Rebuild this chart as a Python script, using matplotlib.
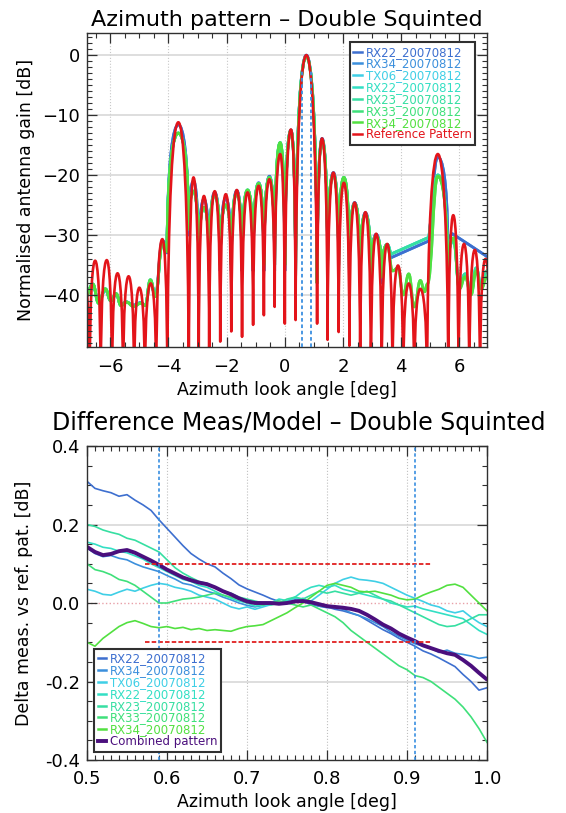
import numpy as np
import matplotlib
matplotlib.use("Agg")
import matplotlib.pyplot as plt
from matplotlib.path import Path
from matplotlib.patches import PathPatch
from matplotlib.lines import Line2D
from matplotlib.ticker import MultipleLocator, FormatStrFormatter

plt.rcParams['font.family'] = ['DejaVu Sans']

# ---------------- series names / colours ----------------
labels_meas = ["RX22_20070812", "RX34_20070812", "TX06_20070812", "RX22_20070812",
               "RX23_20070812", "RX33_20070812", "RX34_20070812"]
colors_meas = ["#3d6fcf", "#3b8fdc", "#3fcfe6", "#33dfc4", "#36dfa2", "#3fe07a", "#52e040"]
color_ref = "#e3141a"
color_comb = "#4b0f7d"

# ---------------- top panel: azimuth pattern (lobe extrema) ----------------
# shape codes: 's' smooth extremum, 'n' sharp null, 'l' straight segment
ref_angle = [-6.88, -6.71, -6.52, -6.33, -6.12, -5.94, -5.75, -5.56, -5.37, -5.18,
             -5.00, -4.81, -4.61, -4.42, -4.21, -4.04, -3.66, -3.30, -3.14, -2.96,
             -2.78, -2.60, -2.41, -2.22, -2.03, -1.84, -1.65, -1.47, -1.28, -1.09,
             -0.90, -0.72, -0.53, -0.35, -0.16, 0.00, 0.21, 0.37, 0.74, 1.11,
             1.28, 1.47, 1.67, 1.85, 2.03, 2.22, 2.40, 2.59, 2.77, 2.96,
             3.14, 3.33, 3.52, 3.70, 3.89, 4.07, 4.26, 4.45, 4.66, 4.89,
             5.26, 5.62, 5.79, 5.97, 6.16, 6.34, 6.53, 6.71, 6.90, 7.08]
ref_gain = [-38.0, -55, -34.3, -55, -34.2, -55, -36.4, -55, -36.9, -55,
            -38.8, -55, -38.1, -55, -30.7, -55, -11.2, -55, -20.4, -52,
            -23.5, -49, -22.7, -47.8, -23.2, -46.1, -22.5, -47.0, -22.9, -45.0,
            -21.8, -43.4, -20.7, -42.0, -16.5, -44.8, -12.4, -44.2, 0.0, -44.8,
            -13.9, -47.5, -19.6, -46.2, -21.3, -48.5, -24.6, -52, -26.2, -55,
            -29.8, -55, -31.5, -55, -35.1, -55, -38.1, -55, -39.0, -55,
            -16.5, -55, -26.7, -55, -31.5, -55, -32.5, -55, -34.0, -55]
ref_shape = "sn" * 35

# measured patterns, blue receivers
blue_angle = [-6.85, -6.60, -6.40, -6.17, -5.98, -5.80, -5.63, -5.45, -5.20, -4.95,
              -4.80, -4.62, -4.45, -4.21, -4.05, -3.66, -3.30, -3.14, -2.96, -2.78,
              -2.60, -2.41, -2.22, -2.03, -1.84, -1.65, -1.47, -1.28, -1.09, -0.90,
              -0.72, -0.53, -0.35, -0.16, 0.00, 0.21, 0.37, 0.74, 1.11, 1.28,
              1.47, 1.67, 1.85, 2.03, 2.22, 2.40, 2.59, 2.77, 2.96, 3.14,
              3.33, 3.52, 3.65, 4.95, 5.26, 5.60, 5.76, 6.95]
blue_gain = [-40.0, -38.4, -41.2, -39.2, -41.0, -40.0, -41.6, -41.2, -41.7, -41.3,
             -41.7, -37.8, -40.0, -31.0, -33.0, -11.6, -30.0, -21.0, -36.0, -24.0,
             -36.0, -22.9, -36.0, -23.8, -36.0, -22.6, -36.0, -22.6, -36.0, -21.3,
             -36.0, -20.2, -36.0, -15.8, -36.0, -12.5, -38.0, 0.0, -38.0, -13.9,
             -36.0, -19.6, -36.0, -21.0, -37.0, -24.6, -38.0, -26.3, -38.0, -29.9,
             -38.0, -31.6, -33.8, -31.0, -17.0, -31.0, -29.8, -33.6]
blue_shape = "s" * 14 + "ns" + "ns" * 18 + "llsnll"

# measured patterns, green receivers: common part up to 3.5 deg
green_angle = [-6.85, -6.60, -6.40, -6.17, -5.98, -5.80, -5.63, -5.45, -5.20, -4.95,
               -4.80, -4.62, -4.45, -4.21, -4.05, -3.66, -3.30, -3.14, -2.96, -2.78,
               -2.60, -2.41, -2.22, -2.03, -1.84, -1.65, -1.47, -1.28, -1.09, -0.90,
               -0.72, -0.53, -0.35, -0.16, 0.00, 0.21, 0.37, 0.74, 1.11, 1.28,
               1.47, 1.67, 1.85, 2.03, 2.22, 2.40, 2.59, 2.77, 2.96, 3.14,
               3.33, 3.52]
green_gain = [-40.3, -38.2, -41.4, -39.0, -41.0, -39.8, -41.8, -41.2, -41.9, -41.4,
              -41.8, -37.5, -40.3, -31.5, -32.8, -13.0, -29.0, -22.7, -35.0, -25.4,
              -35.0, -23.3, -35.0, -25.0, -35.0, -23.0, -35.0, -22.5, -35.0, -21.4,
              -35.0, -20.4, -35.0, -14.6, -35.0, -12.6, -38.0, -0.2, -38.0, -14.2,
              -35.0, -19.9, -35.0, -20.4, -36.0, -24.8, -36.0, -26.6, -37.0, -30.2,
              -37.0, -31.6]
green_shape = "s" * 14 + "ns" + "ns" * 18

# green receivers with the straight (gap) section beyond 3.5 deg
greenA_tail_angle = [3.65, 4.95, 5.26, 5.60, 5.80, 6.00, 6.20, 6.40, 6.58, 6.75, 6.95]
greenA_tail_gain = [-33.2, -30.4, -20.0, -36.0, -31.0, -38.5, -36.5, -39.5, -35.5, -38.5, -36.0]
greenA_tail_shape = "llsnsssssss"

# green receivers with full far-sidelobe coverage
greenB_tail_angle = [3.70, 3.89, 4.07, 4.26, 4.45, 4.66, 4.80, 4.90, 5.26, 5.60,
                     5.80, 6.00, 6.20, 6.40, 6.58, 6.75, 6.95]
greenB_tail_gain = [-36.0, -35.5, -40.0, -36.5, -42.0, -37.6, -39.5, -38.2, -20.2, -37.0,
                    -30.5, -39.0, -37.0, -40.0, -36.0, -39.0, -37.0]
greenB_tail_shape = "s" * 9 + "n" + "s" * 7

# ---------------- bottom panel: difference curves ----------------
look_angle = np.linspace(0.50, 1.00, 51)

diff_rx22 = [0.310, 0.292, 0.286, 0.281, 0.272, 0.276, 0.262, 0.250, 0.236, 0.212,
             0.190, 0.168, 0.146, 0.126, 0.112, 0.100, 0.092, 0.076, 0.062, 0.046,
             0.036, 0.028, 0.020, 0.011, 0.004, 0.000, 0.008, 0.004, -0.004, -0.008,
             -0.010, -0.016, -0.020, -0.026, -0.032, -0.044, -0.056, -0.068, -0.078, -0.090,
             -0.100, -0.110, -0.122, -0.130, -0.140, -0.151, -0.162, -0.182, -0.200, -0.222,
             -0.216]
diff_rx34 = [0.140, 0.126, 0.118, 0.121, 0.114, 0.110, 0.100, 0.092, 0.086, 0.080,
             0.070, 0.061, 0.050, 0.046, 0.038, 0.030, 0.024, 0.015, 0.008, 0.000,
             -0.006, -0.010, -0.006, 0.000, 0.004, 0.000, 0.006, 0.012, 0.000, -0.008,
             -0.012, -0.010, -0.016, -0.025, -0.032, -0.040, -0.050, -0.060, -0.074, -0.085,
             -0.095, -0.104, -0.110, -0.116, -0.126, -0.120, -0.128, -0.131, -0.135, -0.141,
             -0.138]
diff_tx06 = [0.035, 0.030, 0.022, 0.020, 0.028, 0.035, 0.030, 0.038, 0.045, 0.050,
             0.047, 0.040, 0.036, 0.030, 0.020, 0.015, 0.010, 0.000, -0.010, -0.015,
             -0.010, -0.016, -0.010, -0.004, 0.000, 0.005, 0.012, 0.010, 0.005, 0.020,
             0.035, 0.050, 0.060, 0.066, 0.060, 0.058, 0.055, 0.050, 0.040, 0.030,
             0.020, 0.012, 0.004, -0.005, -0.010, -0.020, -0.025, -0.020, -0.036, -0.050,
             -0.060]
diff_rx22b = [0.155, 0.150, 0.142, 0.139, 0.132, 0.128, 0.120, 0.112, 0.100, 0.090,
              0.080, 0.070, 0.060, 0.055, 0.045, 0.040, 0.030, 0.020, 0.012, 0.005,
              0.000, -0.008, -0.005, 0.000, 0.010, 0.006, 0.015, 0.030, 0.040, 0.045,
              0.040, 0.045, 0.035, 0.030, 0.025, 0.020, 0.015, 0.010, 0.000, -0.005,
              -0.010, -0.008, -0.015, -0.020, -0.025, -0.030, -0.035, -0.040, -0.055, -0.070,
              -0.080]
diff_rx23 = [0.200, 0.195, 0.186, 0.180, 0.175, 0.165, 0.160, 0.150, 0.140, 0.130,
             0.110, 0.090, 0.076, 0.065, 0.055, 0.050, 0.040, 0.030, 0.025, 0.015,
             0.010, 0.005, 0.000, -0.005, 0.000, 0.010, 0.015, 0.010, 0.020, 0.030,
             0.025, 0.030, 0.025, 0.020, 0.025, 0.030, 0.020, 0.010, 0.005, -0.005,
             -0.015, -0.025, -0.035, -0.045, -0.055, -0.060, -0.058, -0.050, -0.040, -0.030,
             -0.030]
diff_rx33 = [0.100, 0.085, 0.080, 0.072, 0.060, 0.055, 0.045, 0.030, 0.015, 0.000,
             0.000, 0.005, 0.010, 0.012, 0.015, 0.020, 0.025, 0.020, 0.015, 0.010,
             0.005, 0.000, -0.005, 0.000, 0.005, 0.000, -0.005, -0.010, -0.005, -0.015,
             -0.025, -0.035, -0.050, -0.070, -0.085, -0.100, -0.115, -0.130, -0.145, -0.160,
             -0.170, -0.185, -0.190, -0.200, -0.215, -0.230, -0.245, -0.265, -0.290, -0.320,
             -0.355]
diff_rx34b = [-0.100, -0.110, -0.090, -0.075, -0.060, -0.050, -0.045, -0.052, -0.060, -0.063,
              -0.060, -0.065, -0.062, -0.068, -0.065, -0.070, -0.068, -0.070, -0.072, -0.065,
              -0.060, -0.058, -0.055, -0.045, -0.035, -0.025, -0.012, 0.000, 0.015, 0.030,
              0.045, 0.050, 0.045, 0.040, 0.030, 0.028, 0.030, 0.025, 0.020, 0.012,
              0.008, 0.010, 0.020, 0.028, 0.035, 0.045, 0.048, 0.040, 0.020, 0.000,
              -0.020]
diff_combined = [0.143, 0.130, 0.122, 0.125, 0.132, 0.135, 0.128, 0.118, 0.108, 0.097,
                 0.085, 0.075, 0.065, 0.058, 0.052, 0.048, 0.040, 0.030, 0.022, 0.012,
                 0.004, 0.000, 0.000, 0.000, -0.002, 0.000, 0.004, 0.005, 0.002, -0.003,
                 -0.008, -0.010, -0.012, -0.015, -0.020, -0.030, -0.042, -0.055, -0.065, -0.078,
                 -0.088, -0.097, -0.108, -0.115, -0.122, -0.128, -0.132, -0.145, -0.160, -0.178,
                 -0.195]

window_edges = [0.59, 0.91]
tolerance = 0.1
tolerance_span = [0.573, 0.93]


def _handle(x, y, kind, dx, dy, sgn):
    if kind == 's':
        return (x + sgn * 0.45 * dx, y)
    if kind == 'n':
        return (x + sgn * 0.05 * dx, y + sgn * 0.75 * dy)
    return (x + sgn * dx / 3.0, y + sgn * dy / 3.0)


def lobe_path(xs, ys, shape):
    verts = [(xs[0], ys[0])]
    codes = [Path.MOVETO]
    for i in range(len(xs) - 1):
        x0, y0, k0 = xs[i], ys[i], shape[i]
        x1, y1, k1 = xs[i + 1], ys[i + 1], shape[i + 1]
        dx, dy = x1 - x0, y1 - y0
        if k0 == 'l' and k1 == 'l':
            verts.append((x1, y1))
            codes.append(Path.LINETO)
            continue
        verts += [_handle(x0, y0, k0, dx, dy, 1), _handle(x1, y1, k1, dx, dy, -1), (x1, y1)]
        codes += [Path.CURVE4] * 3
    return Path(verts, codes)


def draw_pattern(ax, xs, ys, shape, color, lw):
    patch = PathPatch(lobe_path(xs, ys, shape), facecolor='none', edgecolor=color,
                      lw=lw, joinstyle='round', capstyle='round')
    ax.add_patch(patch)


def style_axes(ax):
    for sp in ax.spines.values():
        sp.set_color('#303030')
        sp.set_linewidth(1.0)
    ax.tick_params(which='both', direction='in', top=True, right=True, colors='#303030',
                   labelcolor='black', labelsize=13)
    ax.tick_params(which='major', length=7, width=0.9)
    ax.tick_params(which='minor', length=3.5, width=0.8)


fig = plt.figure(figsize=(5.66, 8.13), dpi=100)

# ======================= top panel =======================
ax1 = fig.add_axes([87 / 566, 1 - 347 / 813, 400 / 566, 314 / 813])
ax1.set_xlim(-6.8, 6.95)
ax1.set_ylim(-48.7, 3.7)
for gx in [-6, -4, -2, 0, 2, 4, 6]:
    ax1.axvline(gx, color='#c8c8c8', lw=0.8, ls=':', zorder=0)
for gy in [0, -10, -20, -30, -40]:
    ax1.axhline(gy, color='#d4d4d4', lw=1.1, zorder=0)

green_a_x = green_angle + greenA_tail_angle
green_a_y = green_gain + greenA_tail_gain
green_a_s = green_shape + greenA_tail_shape
green_b_x = green_angle + greenB_tail_angle
green_b_y = green_gain + greenB_tail_gain
green_b_s = green_shape + greenB_tail_shape

draw_pattern(ax1, blue_angle, blue_gain, blue_shape, colors_meas[1], 2.0)
draw_pattern(ax1, blue_angle, blue_gain, blue_shape, colors_meas[0], 2.0)
draw_pattern(ax1, green_a_x, green_a_y, green_a_s, colors_meas[2], 2.0)
draw_pattern(ax1, green_a_x, green_a_y, green_a_s, colors_meas[3], 2.0)
draw_pattern(ax1, green_a_x, green_a_y, green_a_s, colors_meas[4], 2.0)
draw_pattern(ax1, green_b_x, green_b_y, green_b_s, colors_meas[5], 2.0)
draw_pattern(ax1, green_b_x, green_b_y, green_b_s, colors_meas[6], 2.0)
draw_pattern(ax1, ref_angle, ref_gain, ref_shape, color_ref, 1.9)

ax1.vlines(window_edges, -48.7, -2.6, colors='#3a8fe0', lw=1.3, linestyles=(0, (2, 1.5)), zorder=3)

ax1.xaxis.set_major_locator(MultipleLocator(2))
ax1.xaxis.set_minor_locator(MultipleLocator(0.5))
ax1.yaxis.set_major_locator(MultipleLocator(10))
ax1.yaxis.set_minor_locator(MultipleLocator(1))
style_axes(ax1)
ax1.tick_params(axis='x', pad=8)
ax1.tick_params(axis='y', pad=5)
ax1.set_title("Azimuth pattern – Double Squinted", fontsize=16, pad=5)
ax1.set_xlabel("Azimuth look angle [deg]", fontsize=12.5)
ax1.set_ylabel("Normalised antenna gain [dB]", fontsize=12.5)
ax1.xaxis.set_label_coords(0.5, -0.108)
ax1.yaxis.set_label_coords(-0.13, 0.5)

handles1 = [Line2D([], [], color=c, lw=1.8) for c in colors_meas] + [Line2D([], [], color=color_ref, lw=1.8)]
leg1 = ax1.legend(handles1, labels_meas + ["Reference Pattern"], loc='upper left',
                  bbox_to_anchor=(0.657, 0.971), fontsize=8.5, frameon=True, fancybox=False,
                  framealpha=1, edgecolor='#303030', borderpad=0.3, labelspacing=-0.1,
                  handlelength=0.7, handletextpad=0.35, borderaxespad=0)
leg1.get_frame().set_linewidth(1.5)
for txt, c in zip(leg1.get_texts(), colors_meas + [color_ref]):
    txt.set_color(c)

# ======================= bottom panel =======================
ax2 = fig.add_axes([87 / 566, 1 - 760 / 813, 400 / 566, 314 / 813])
ax2.set_xlim(0.5, 1.0)
ax2.set_ylim(-0.4, 0.4)
for gx in [0.6, 0.7, 0.8, 0.9]:
    ax2.axvline(gx, color='#c0c0c0', lw=0.8, ls=':', zorder=0)
for gy in [0.2, -0.2]:
    ax2.axhline(gy, color='#d4d4d4', lw=1.1, zorder=0)
ax2.axhline(0.0, color='#e8a0a8', lw=1.0, ls=':', zorder=0)

diffs = [diff_rx22, diff_rx34, diff_tx06, diff_rx22b, diff_rx23, diff_rx33, diff_rx34b]
for d, c in zip(diffs, colors_meas):
    ax2.plot(look_angle, d, color=c, lw=1.2)
ax2.plot(look_angle, diff_combined, color=color_comb, lw=2.8, solid_capstyle='round')

ax2.hlines([tolerance, -tolerance], tolerance_span[0], tolerance_span[1], colors='#e02020',
           lw=1.3, linestyles=(0, (2.5, 1.2)), zorder=4)
ax2.vlines(window_edges, -0.4, 0.4, colors='#3a8fe0', lw=1.2, linestyles=(0, (2, 1.5)), zorder=4)

ax2.xaxis.set_major_locator(MultipleLocator(0.1))
ax2.xaxis.set_minor_locator(MultipleLocator(0.01))
ax2.yaxis.set_major_locator(MultipleLocator(0.2))
ax2.yaxis.set_minor_locator(MultipleLocator(0.05))
ax2.xaxis.set_major_formatter(FormatStrFormatter('%.1f'))
ax2.yaxis.set_major_formatter(FormatStrFormatter('%.1f'))
style_axes(ax2)
ax2.tick_params(axis='x', pad=7)
ax2.tick_params(axis='y', pad=5)
ax2.set_xlabel("Azimuth look angle [deg]", fontsize=12.5)
ax2.set_ylabel("Delta meas. vs ref. pat. [dB]", fontsize=12.5)
ax2.xaxis.set_label_coords(0.5, -0.105)
ax2.yaxis.set_label_coords(-0.135, 0.5)
fig.text(52 / 566, 1 - 423 / 813, "Difference Meas/Model – Double Squinted",
         ha='left', va='center', fontsize=17)

handles2 = [Line2D([], [], color=c, lw=1.8) for c in colors_meas] + [Line2D([], [], color=color_comb, lw=2.8)]
leg2 = ax2.legend(handles2, labels_meas + ["Combined pattern"], loc='upper left',
                  bbox_to_anchor=(0.0175, 0.354), fontsize=8.5, frameon=True, fancybox=False,
                  framealpha=1, edgecolor='#303030', borderpad=0.3, labelspacing=-0.1,
                  handlelength=0.7, handletextpad=0.35, borderaxespad=0)
leg2.get_frame().set_linewidth(1.5)
for txt, c in zip(leg2.get_texts(), colors_meas + [color_comb]):
    txt.set_color(c)

fig.savefig("out.png", dpi=100)
